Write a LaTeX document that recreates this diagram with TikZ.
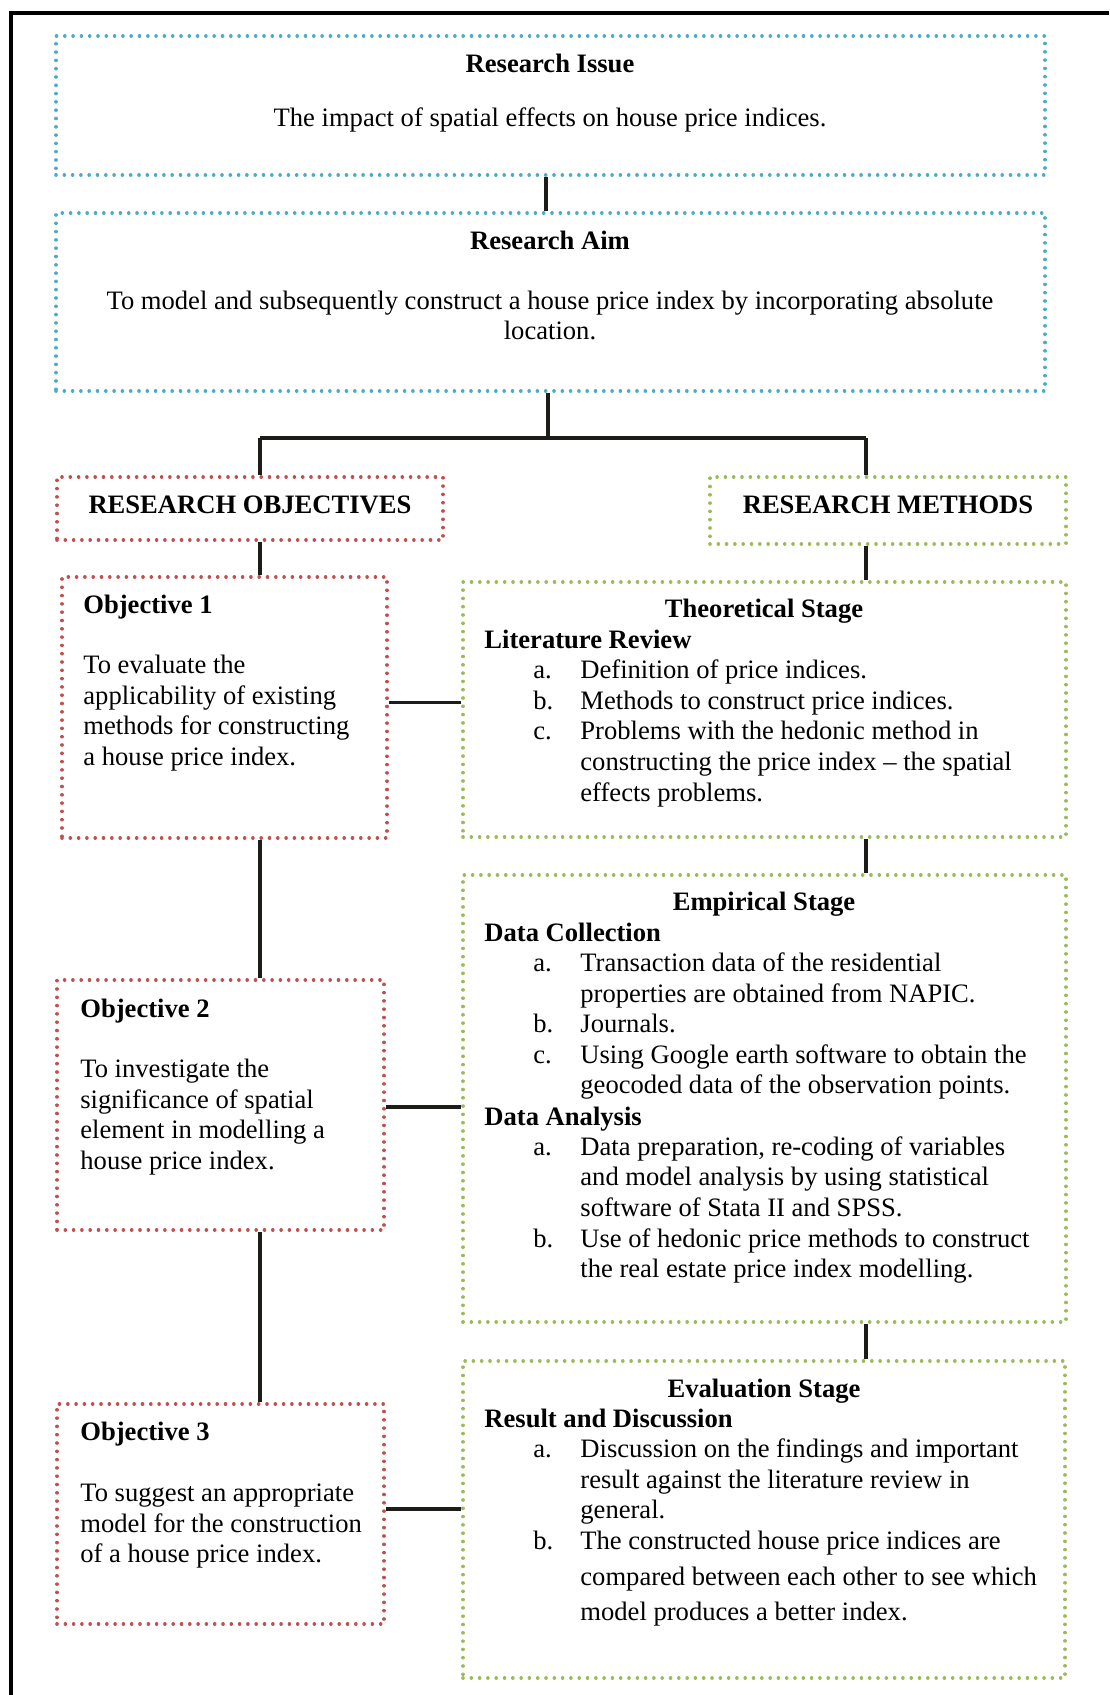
\documentclass[tikz,border=0pt]{standalone}
\usepackage{fontspec}
\setmainfont{Liberation Serif}
\usetikzlibrary{fit}
\definecolor{cblue}{RGB}{75,172,198}
\definecolor{cred}{RGB}{192,80,77}
\definecolor{cgreen}{RGB}{155,187,89}
\definecolor{cline}{RGB}{30,28,24}
\tikzset{
  dotbox/.style={draw=#1, line width=1.8pt, line cap=round, dash pattern=on 0.01pt off 4.14pt, inner sep=0pt, rectangle},
  conn/.style={draw=cline, line width=1.6pt},
  frame/.style={draw=black, line width=2pt},
  txt/.style={anchor=base west, inner sep=0pt, font=\fontsize{13.3}{15.35}\selectfont},
  ctxt/.style={txt, anchor=base},
  btxt/.style={txt, font=\fontsize{13.3}{15.35}\selectfont\bfseries},
  cbtxt/.style={btxt, anchor=base},
}
\begin{document}
\begin{tikzpicture}[x=0.5pt,y=-0.5pt]
\useasboundingbox (0,0) rectangle (1109,1695);
% outer frame
\coordinate (fbl) at (11,1695);
\coordinate (ftl) at (11,13);
\coordinate (ftr) at (1109,13);
\draw[frame] (fbl) -- (ftl) -- (ftr);

% boxes
\node[dotbox=cblue, fit={(56,36) (1045,175)}] (issue) {};
\node[dotbox=cblue, fit={(56,213) (1045,391)}] (aim) {};
\node[dotbox=cred, fit={(57,477) (443,540)}] (ro) {};
\node[dotbox=cgreen, fit={(710,477) (1066,544)}] (rm) {};
\node[dotbox=cred, fit={(62,577) (387,838)}] (obj1) {};
\node[dotbox=cgreen, fit={(463,582) (1066,837)}] (theo) {};
\node[dotbox=cgreen, fit={(463,875) (1066,1322)}] (emp) {};
\node[dotbox=cred, fit={(57,980) (384,1230)}] (obj2) {};
\node[dotbox=cred, fit={(57,1404) (384,1624)}] (obj3) {};
\node[dotbox=cgreen, fit={(463,1361) (1065,1678)}] (eval) {};

% connector guides
\coordinate (mx) at (546,0);
\coordinate (split) at (548,438);
\coordinate (lx) at (260,0);
\coordinate (rx) at (866,0);

% connectors
\draw[conn] (issue.south -| mx) -- (aim.north -| mx);
\draw[conn] (aim.south -| split) -- (split);
\draw[conn] (lx |- split) -- (rx |- split);
\draw[conn] (lx |- split) -- (lx |- ro.north);
\draw[conn] (rx |- split) -- (rx |- rm.north);
\draw[conn] (lx |- ro.south) -- (lx |- obj1.north);
\draw[conn] (rx |- rm.south) -- (rx |- theo.north);
\draw[conn] (lx |- obj1.south) -- (lx |- obj2.north);
\draw[conn] (lx |- obj2.south) -- (lx |- obj3.north);
\draw[conn] (rx |- theo.south) -- (rx |- emp.north);
\draw[conn] (rx |- emp.south) -- (rx |- eval.north);
\draw[conn] (obj1.east) ++(0,-5) coordinate (c1) -- (c1 -| theo.west);
\draw[conn] (obj2.east) ++(0,2) coordinate (c2) -- (c2 -| emp.west);
\draw[conn] (obj3.east) ++(0,-5) coordinate (c3) -- (c3 -| eval.west);

% Research Issue
\node[cbtxt] (t1) at (550,73) {Research Issue};
\node[ctxt] (t2) at (550,127) {The impact of spatial effects on house price indices.};
% Research Aim
\node[cbtxt] (t3) at (550,250) {Research Aim};
\node[ctxt] (t4) at (550,310) {To model and subsequently construct a house price index by incorporating absolute};
\node[ctxt] (t5) at (550,340) {location.};
% headers
\node[cbtxt] (t6) at (250,513) {RESEARCH OBJECTIVES};
\node[cbtxt] (t7) at (888,513) {RESEARCH METHODS};
% Objective 1
\node[btxt] (o1a) at (83,613) {Objective 1};
\node[txt] (o1b) at (83,673) {To evaluate the};
\node[txt] (o1c) at (83,704) {applicability of existing};
\node[txt] (o1d) at (83,734) {methods for constructing};
\node[txt] (o1e) at (83,765) {a house price index.};
% Objective 2
\node[btxt] (o2a) at (80,1017) {Objective 2};
\node[txt] (o2b) at (80,1077) {To investigate the};
\node[txt] (o2c) at (80,1108) {significance of spatial};
\node[txt] (o2d) at (80,1138) {element in modelling a};
\node[txt] (o2e) at (80,1169) {house price index.};
% Objective 3
\node[btxt] (o3a) at (80,1440) {Objective 3};
\node[txt] (o3b) at (80,1501) {To suggest an appropriate};
\node[txt] (o3c) at (80,1532) {model for the construction};
\node[txt] (o3d) at (80,1562) {of a house price index.};
% Theoretical stage
\node[cbtxt] (s1) at (764,617) {Theoretical Stage};
\node[btxt] (s2) at (484,648) {Literature Review};
\node[txt] (s3l) at (533,678) {a.};
\node[txt] (s3) at (580,678) {Definition of price indices.};
\node[txt] (s4l) at (533,709) {b.};
\node[txt] (s4) at (580,709) {Methods to construct price indices.};
\node[txt] (s5l) at (533,739) {c.};
\node[txt] (s5) at (580,739) {Problems with the hedonic method in};
\node[txt] (s6) at (580,770) {constructing the price index -- the spatial};
\node[txt] (s7) at (580,801) {effects problems.};
% Empirical stage
\node[cbtxt] (e1) at (764,910) {Empirical Stage};
\node[btxt] (e2) at (484,941) {Data Collection};
\node[txt] (e3l) at (533,971) {a.};
\node[txt] (e3) at (580,971) {Transaction data of the residential};
\node[txt] (e4) at (580,1002) {properties are obtained from NAPIC.};
\node[txt] (e5l) at (533,1032) {b.};
\node[txt] (e5) at (580,1032) {Journals.};
\node[txt] (e6l) at (533,1063) {c.};
\node[txt] (e6) at (580,1063) {Using Google earth software to obtain the};
\node[txt] (e7) at (580,1093) {geocoded data of the observation points.};
\node[btxt] (e8) at (484,1125) {Data Analysis};
\node[txt] (e9l) at (533,1155) {a.};
\node[txt] (e9) at (580,1155) {Data preparation, re-coding of variables};
\node[txt] (e10) at (580,1185) {and model analysis by using statistical};
\node[txt] (e11) at (580,1216) {software of Stata II and SPSS.};
\node[txt] (e12l) at (533,1247) {b.};
\node[txt] (e12) at (580,1247) {Use of hedonic price methods to construct};
\node[txt] (e13) at (580,1277) {the real estate price index modelling.};
% Evaluation stage
\node[cbtxt] (v1) at (764,1397) {Evaluation Stage};
\node[btxt] (v2) at (484,1427) {Result and Discussion};
\node[txt] (v3l) at (533,1457) {a.};
\node[txt] (v3) at (580,1457) {Discussion on the findings and important};
\node[txt] (v4) at (580,1488) {result against the literature review in};
\node[txt] (v5) at (580,1518) {general.};
\node[txt] (v6l) at (533,1549) {b.};
\node[txt] (v6) at (580,1549) {The constructed house price indices are};
\node[txt] (v7) at (580,1585) {compared between each other to see which};
\node[txt] (v8) at (580,1620) {model produces a better index.};
\end{tikzpicture}
\end{document}
